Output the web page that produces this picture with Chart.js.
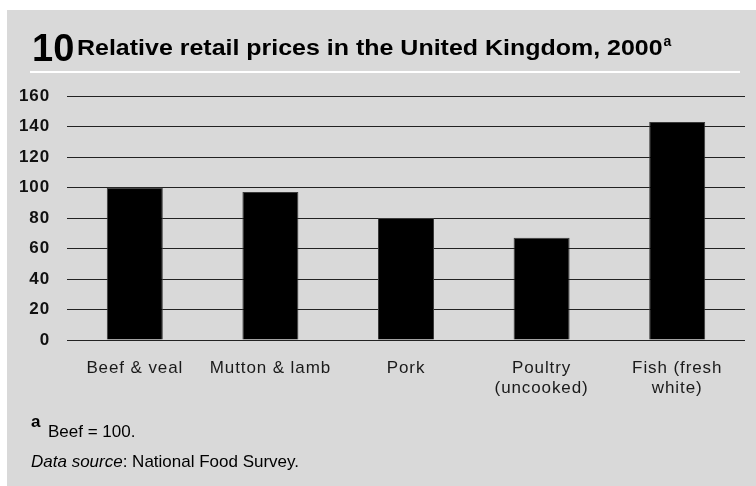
<!DOCTYPE html>
<html>
<head>
<meta charset="utf-8">
<script src="https://cdn.jsdelivr.net/npm/chart.js@4.4.1/dist/chart.umd.min.js"></script>
<style>
  html, body { margin: 0; padding: 0; background: #fff; }
  #panel { position: absolute; left: 7px; top: 10px; width: 749px; height: 476px; background: #d9d9d9; }
  #wrap { position: absolute; left: 0; top: 0; width: 756px; height: 486px; }
</style>
</head>
<body>
<div id="panel"></div>
<div id="wrap"><canvas id="priceChart" width="756" height="486"></canvas></div>
<script>
const categories = [
  ['Beef & veal'],
  ['Mutton & lamb'],
  ['Pork'],
  ['Poultry', '(uncooked)'],
  ['Fish (fresh', 'white)']
];
const prices = [100, 97, 80, 67, 143];
const yTicks = [0, 20, 40, 60, 80, 100, 120, 140, 160];

const FONT = "'Liberation Sans', Arial, sans-serif";

// heading, rule and notes drawn straight onto the canvas
const textPlugin = {
  id: 'textPlugin',
  beforeDraw(chart) {
    // the axis labels are set a little loose
    chart.ctx.letterSpacing = '0.9px';
  },
  afterDraw(chart) {
    const ctx = chart.ctx;
    ctx.save();
    ctx.fillStyle = '#fff';
    ctx.fillRect(30, 71, 710, 2);

    ctx.fillStyle = '#000';
    ctx.textBaseline = 'alphabetic';
    ctx.textAlign = 'left';
    ctx.letterSpacing = '0px';
    ctx.font = 'bold 38px ' + FONT;
    ctx.fillText('10', 32, 61);

    // heading is set in a widened bold face
    ctx.font = 'bold 22px ' + FONT;
    const title = 'Relative retail prices in the United Kingdom, 2000';
    const stretch = 1.135;
    const w = ctx.measureText(title).width * stretch;
    ctx.save();
    ctx.translate(77, 55);
    ctx.scale(stretch, 1);
    ctx.fillText(title, 0, 0);
    ctx.restore();
    ctx.font = 'bold 14px ' + FONT;
    ctx.fillText('a', 77 + w + 1, 46);

    ctx.font = 'bold 17px ' + FONT;
    ctx.fillText('a', 31, 427);
    ctx.font = '17px ' + FONT;
    ctx.fillText('Beef = 100.', 48, 437);

    ctx.font = 'italic 17px ' + FONT;
    ctx.fillText('Data source', 31, 467);
    const dw = ctx.measureText('Data source').width;
    ctx.font = '17px ' + FONT;
    ctx.fillText(': National Food Survey.', 31 + dw, 467);
    ctx.restore();
  }
};

const ctx = document.getElementById('priceChart').getContext('2d');
const priceChart = new Chart(ctx, {
  type: 'bar',
  data: {
    labels: categories,
    datasets: [{
      data: prices,
      backgroundColor: '#000',
      borderColor: '#3a3a3a',
      borderWidth: 1,
      barPercentage: 0.413,
      categoryPercentage: 1
    }]
  },
  options: {
    responsive: false,
    animation: false,
    layout: { padding: { left: 7, top: 96, right: 11, bottom: 86 } },
    plugins: {
      legend: { display: false },
      tooltip: { enabled: false }
    },
    scales: {
      x: {
        grid: { display: false, drawTicks: false },
        border: { display: false },
        ticks: {
          color: '#1a1a1a',
          font: { family: FONT, size: 17, lineHeight: 1.15 },
          padding: 19,
          maxRotation: 0,
          autoSkip: false
        },
        afterFit(scale) { scale.height = 60; }
      },
      y: {
        min: 0,
        max: 160,
        afterBuildTicks(scale) { scale.ticks = yTicks.map(v => ({ value: v })); },
        grid: { color: '#222', lineWidth: 1, drawTicks: false },
        border: { display: false },
        ticks: {
          color: '#111',
          font: { family: FONT, size: 17, weight: 'bold' },
          padding: 17
        },
        afterFit(scale) { scale.width = 60; }
      }
    }
  },
  plugins: [textPlugin]
});
</script>
</body>
</html>
